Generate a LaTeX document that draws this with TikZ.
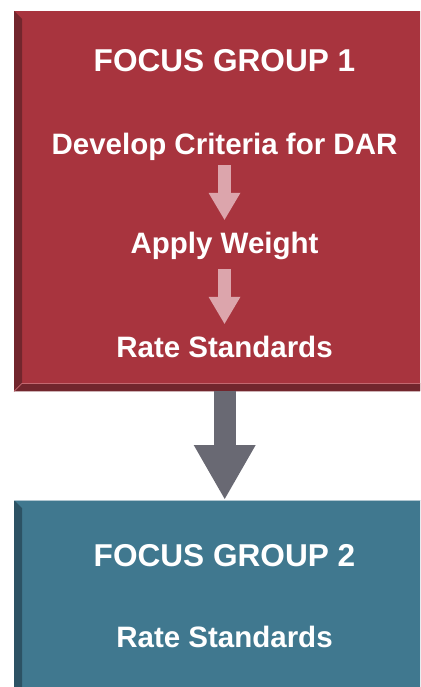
\documentclass[tikz,border=0pt]{standalone}
\usepackage{fontspec}
\setmainfont{Liberation Sans}
\usetikzlibrary{arrows.meta}
\definecolor{grpred}{RGB}{168,52,62}
\definecolor{grpreddark}{RGB}{114,38,45}
\definecolor{grpredline}{RGB}{196,104,112}
\definecolor{grpteal}{RGB}{64,120,143}
\definecolor{grptealdark}{RGB}{44,82,100}
\definecolor{grptealline}{RGB}{176,198,208}
\definecolor{steparrow}{RGB}{220,165,172}
\definecolor{flowarrow}{RGB}{105,105,115}
\begin{document}
\begin{tikzpicture}[x=1pt,y=-1pt,
  grpbox/.style={draw=none,inner sep=0,minimum width=421pt,anchor=north west},
  grptitle/.style={text=white,font=\bfseries\fontsize{31.6}{32}\selectfont,anchor=base,inner sep=0,text height=23pt,text depth=0pt},
  grpitem/.style={text=white,font=\bfseries\fontsize{29.5}{30}\selectfont,anchor=base,inner sep=0,text height=21pt,text depth=7pt},
  pinkarrow/.style={steparrow,line width=13pt,-{Triangle[length=27pt,width=32pt,line width=0pt]}},
  grayarrow/.style={flowarrow,line width=22pt,-{Triangle[length=54pt,width=62pt,line width=0pt]}}]
  \useasboundingbox (0,0) rectangle (420,687);
  \clip (0,0) rectangle (420,687);
  % focus group 1
  \node[grpbox,fill=grpred,minimum height=380pt] (grp1) at (14,11) {};
  \fill[grpreddark] (grp1.north west) -- ++(8,8) -- ([shift={(8,-8)}]grp1.south west) -- (grp1.south west) -- cycle;
  \fill[grpreddark] (grp1.south west) -- ++(8,-8) -- ([yshift=8pt]grp1.south east) -- (grp1.south east) -- cycle;
  \draw[grpredline,line width=0.8pt] (grp1.south west) -- ++(8,-8) -- ([yshift=8pt]grp1.south east);
  % focus group 2
  \node[grpbox,fill=grpteal,minimum height=200pt] (grp2) at (14,500) {};
  \fill[grptealdark] (grp2.north west) -- ++(8,8) -- ([xshift=8pt]grp2.south west) -- (grp2.south west) -- cycle;
  \draw[grptealline,line width=0.8pt] (grp2.north west) -- (grp2.north east);
  % texts
  \node[grptitle] (title1) at (224.5,72) {FOCUS GROUP 1};
  \node[grpitem] (criteria) at (224.5,155) {Develop Criteria for DAR};
  \node[grpitem] (weight) at (224.5,253) {Apply Weight};
  \node[grpitem] (rate1) at (224.5,357) {Rate Standards};
  \node[grptitle] (title2) at (224.5,566) {FOCUS GROUP 2};
  \node[grpitem] (rate2) at (224.5,647) {Rate Standards};
  % arrows
  \draw[pinkarrow] ([yshift=-3pt]criteria.south) -- ([yshift=12pt]weight.north);
  \draw[pinkarrow] ([yshift=-9pt]weight.south) -- ([yshift=12pt]rate1.north);
  \draw[grayarrow] (grp1.south) -- ([yshift=1pt]grp2.north);
\end{tikzpicture}
\end{document}
